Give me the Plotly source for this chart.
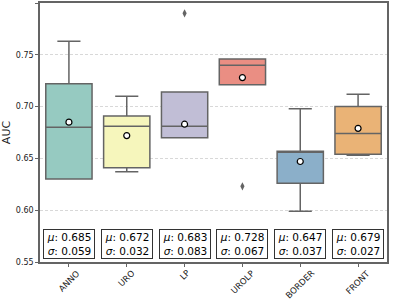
import plotly.graph_objects as go

categories = ["ANNO", "URO", "LP", "UROLP", "BORDER", "FRONT"]
q1 = [0.630, 0.641, 0.670, 0.721, 0.626, 0.654]
median = [0.680, 0.681, 0.681, 0.740, 0.657, 0.674]
q3 = [0.722, 0.691, 0.714, 0.746, 0.657, 0.700]
lowerfence = [0.630, 0.637, 0.670, 0.721, 0.599, 0.653]
upperfence = [0.763, 0.710, 0.714, 0.746, 0.698, 0.712]
means = [0.685, 0.672, 0.683, 0.728, 0.647, 0.679]
stds = [0.059, 0.032, 0.083, 0.067, 0.037, 0.027]
outlier_cats = ["LP", "UROLP"]
outlier_vals = [0.790, 0.623]
colors = ["#96cac1", "#f6f6bc", "#c1bed6", "#ea8e83", "#8bafc9", "#eab376"]
yticks = [0.55, 0.60, 0.65, 0.70, 0.75, 0.80]

line_gray = "#646464"

fig = go.Figure()
for i, c in enumerate(categories):
    fig.add_trace(go.Box(
        x=[c], q1=[q1[i]], median=[median[i]], q3=[q3[i]],
        lowerfence=[lowerfence[i]], upperfence=[upperfence[i]],
        fillcolor=colors[i], line=dict(color=line_gray, width=1.5),
        width=0.8, whiskerwidth=0.5, boxpoints=False, showlegend=False,
        hoverinfo="skip",
    ))

fig.add_trace(go.Scatter(
    x=outlier_cats, y=outlier_vals, mode="markers",
    marker=dict(symbol="diamond-tall", size=6, color=line_gray),
    showlegend=False,
))
fig.add_trace(go.Scatter(
    x=categories, y=means, mode="markers",
    marker=dict(symbol="circle", size=6, color="white",
                line=dict(color="black", width=1.2)),
    showlegend=False,
))

for i, c in enumerate(categories):
    fig.add_annotation(
        x=c, y=0.5675, xref="x", yref="y",
        text=f"<i>μ</i>: {means[i]:.3f}<br><i>σ</i>: {stds[i]:.3f}",
        showarrow=False, align="center", yanchor="middle",
        width=50, height=28,
        font=dict(family="DejaVu Sans", size=10.5, color="black"),
        bgcolor="white", bordercolor="#333333", borderwidth=1, borderpad=0,
    )
    # rotated category labels centred under each tick (matplotlib style)
    fig.add_annotation(
        x=c, y=-0.012, xref="x", yref="paper",
        text=c, textangle=-45, showarrow=False,
        xanchor="center", yanchor="top",
        font=dict(family="DejaVu Sans", size=8.5, color="#222222"),
    )

fig.update_layout(
    width=410, height=299,
    margin=dict(l=40, r=23, t=3, b=37),
    plot_bgcolor="white", paper_bgcolor="white",
    font=dict(family="DejaVu Sans", color="#222222"),
)
fig.update_xaxes(
    range=[-0.5, 5.5], categoryorder="array", categoryarray=categories,
    showticklabels=False, automargin=False,
    showline=True, linecolor=line_gray, linewidth=1.5, mirror=True,
    ticks="outside", ticklen=3, tickcolor=line_gray, showgrid=False,
)
fig.update_yaxes(
    range=[0.55, 0.80], tickvals=yticks, tickformat=".2f",
    tickfont=dict(size=8), automargin=False,
    title=dict(text="AUC", font=dict(size=11), standoff=7),
    showline=True, linecolor=line_gray, linewidth=1.5, mirror=True,
    ticks="outside", ticklen=3, tickcolor=line_gray,
    showgrid=True, gridcolor="#d8d8d8", griddash="3px,2px", gridwidth=0.8,
    zeroline=False,
)

fig.write_html(
    "out.html",
    config={"displayModeBar": False},
    post_script="document.body.style.margin='0px';document.body.style.overflow='hidden';",
)
